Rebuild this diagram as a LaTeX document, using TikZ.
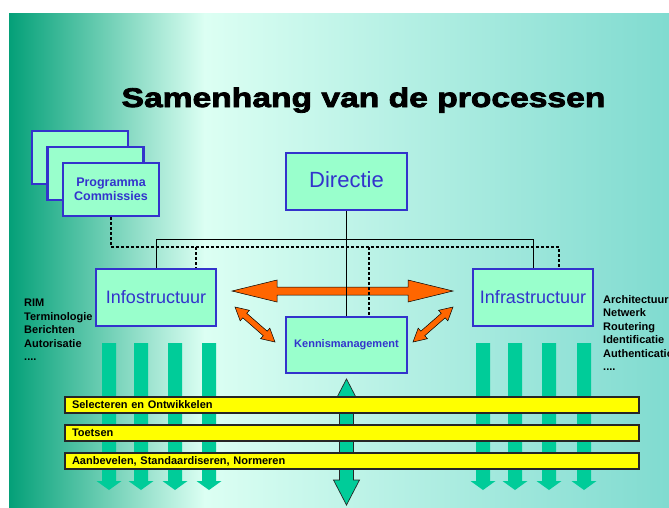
\documentclass[tikz,border=0pt]{standalone}
\usepackage{fontspec}
\setmainfont{Liberation Sans}
\newfontfamily\titlefont[FakeBold=3,FakeStretch=1.245]{Liberation Sans Bold}
\usetikzlibrary{calc}

\definecolor{boxfill}{RGB}{153,255,204}
\definecolor{boxline}{RGB}{51,51,204}
\definecolor{flowgreen}{RGB}{0,204,153}
\definecolor{bgdark}{RGB}{4,160,120}
\definecolor{bglight}{RGB}{220,255,243}
\definecolor{bgright}{RGB}{128,219,208}
\definecolor{arroworange}{RGB}{255,102,0}
\definecolor{baryellow}{RGB}{255,255,0}

% double-headed block arrow between two coordinates:
% #1 from, #2 to, #3 head length, #4 head half width, #5 shaft half width, #6 style
\newcommand\twoheads[6]{%
  \coordinate (ha) at ($(#1)!#3!(#2)$);
  \coordinate (hb) at ($(#2)!#3!(#1)$);
  \draw[#6] (#1) -- ($(ha)!#4!90:(#2)$) -- ($(ha)!#5!90:(#2)$)
    -- ($(hb)!#5!-90:(#1)$) -- ($(hb)!#4!-90:(#1)$) -- (#2)
    -- ($(hb)!#4!90:(#1)$) -- ($(hb)!#5!90:(#1)$)
    -- ($(ha)!#5!-90:(#2)$) -- ($(ha)!#4!-90:(#2)$) -- cycle;
}
% downward flow arrow with its shaft centred on x = #1
\newcommand\flowdown[1]{%
  \fill[flowgreen] (#1-7,343) -- (#1+7,343) -- (#1+7,481) -- (#1+12.5,481)
    -- (#1,490) -- (#1-12.5,481) -- (#1-7,481) -- cycle;
}

\begin{document}
\begin{tikzpicture}[x=1pt,y=-1pt,
  procbox/.style={draw=boxline, fill=boxfill, line width=2.5pt, text=boxline,
    inner sep=2pt, align=center},
  conn/.style={draw=black, line width=0.9pt},
  dconn/.style={draw=black, line width=1.6pt, dash pattern=on 3pt off 2pt},
  orangearrow/.style={fill=arroworange, draw=black, line width=0.5pt, line join=miter},
  greenarrow/.style={fill=flowgreen, draw=black!85, line width=0.7pt},
  ybar/.style={fill=baryellow, draw=black!85, line width=1.2pt, minimum width=574pt,
    minimum height=16pt, inner xsep=7pt, inner ysep=0pt, text width=560pt, align=left,
    text height=7.9pt, text depth=0pt, font=\fontsize{11}{13}\selectfont\bfseries},
  listtext/.style={anchor=north west, inner sep=0pt, align=left,
    font=\fontsize{11}{13.5}\selectfont\bfseries}
]
\useasboundingbox (0,0) rectangle (669,507);
\fill[white] (0,0) rectangle (669,507);

% background gradient
\shade[left color=bgdark, right color=bglight] (9,13) rectangle (205,507);
\shade[left color=bglight, right color=bgright] (204.5,13) rectangle (669,507);

% title
\node[anchor=base, inner sep=0pt] (title) at (363.5,107)
  {\titlefont\fontsize{27}{27}\selectfont Samenhang van de processen};

% flow arrows below the two main streams
\flowdown{109}\flowdown{141}\flowdown{175}\flowdown{209}
\flowdown{483}\flowdown{515}\flowdown{549}\flowdown{584}

% central two-way flow
\coordinate (gtop) at (346.5,379);
\coordinate (gbot) at (346.5,505);
\twoheads{gtop}{gbot}{25pt}{13pt}{7pt}{greenarrow}

% orange exchange arrows
\coordinate (oL) at (232,291);
\coordinate (oR) at (453,291);
\twoheads{oL}{oR}{45pt}{11pt}{4pt}{orangearrow}
\coordinate (dLa) at (235,307);
\coordinate (dLb) at (275,342);
\twoheads{dLa}{dLb}{13pt}{7pt}{3pt}{orangearrow}
\coordinate (dRa) at (453,307);
\coordinate (dRb) at (413,342);
\twoheads{dRa}{dRb}{13pt}{7pt}{3pt}{orangearrow}

% programme committees (stacked)
\node[procbox, minimum width=96pt, minimum height=53pt] (progC) at (80,157.5) {};
\node[procbox, minimum width=96pt, minimum height=53pt] (progB) at (95.5,173.5) {};

% main process boxes
\node[procbox, minimum width=121pt, minimum height=57pt,
  font=\fontsize{22}{26}\selectfont] (dir) at (346.5,181.5) {Directie\vphantom{g}};
\node[procbox, minimum width=120pt, minimum height=57pt,
  font=\fontsize{18}{22}\selectfont] (info) at (156,297.5) {Infostructuur};
\node[procbox, minimum width=120pt, minimum height=57pt,
  font=\fontsize{18}{22}\selectfont] (infra) at (533,297.5) {Infrastructuur};
\node[procbox, minimum width=121pt, minimum height=56pt,
  font=\fontsize{11}{13}\selectfont\bfseries] (kennis) at (346.5,345) {Kennismanagement};

% hierarchy lines
\coordinate (bus) at (0,239);
\coordinate (dbus) at (0,247);
\draw[conn] (dir.south) -- (kennis.north);
\draw[conn] (info.north) -- (info.north |- bus) -- (infra.north |- bus) -- (infra.north);

% advisory (dashed) lines
\coordinate (infoD) at ($(info.north east)+(-21,0)$);
\coordinate (kenD) at ($(kennis.north west)+(84,0)$);
\coordinate (infraD) at ($(infra.north east)+(-35,0)$);

\node[procbox, minimum width=96pt, minimum height=53pt,
  font=\fontsize{12.5}{14.5}\selectfont\bfseries] (prog) at (111,189.5)
  {Programma\\Commissies};

\draw[dconn] (prog.south) -- (prog.south |- dbus) -- (infraD |- dbus) -- (infraD);
\draw[dconn] (infoD |- dbus) -- (infoD);
\draw[dconn] (kenD |- dbus) -- (kenD);

% topic lists
\node[listtext] (infolist) at (24,299)
  {RIM\\Terminologie\\Berichten\\Autorisatie\\....};
\node[listtext] (infralist) at (603,295)
  {Architectuur\\Netwerk\\Routering\\Identificatie\\Authentication\\....};

% activity bars
\node[ybar] (bar1) at (352,405) {Selecteren en Ontwikkelen};
\node[ybar] (bar2) at (352,433) {Toetsen};
\node[ybar] (bar3) at (352,461) {Aanbevelen, Standaardiseren, Normeren};
\end{tikzpicture}
\end{document}
